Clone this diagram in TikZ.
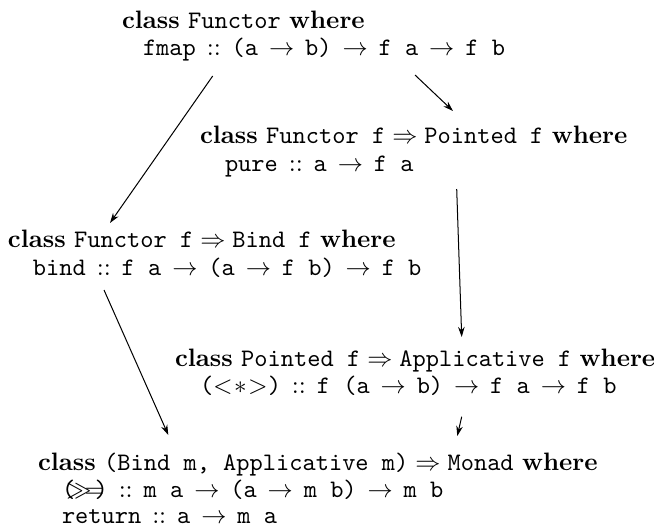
\documentclass[tikz,border=0pt]{standalone}
\usetikzlibrary{arrows.meta}
\newcommand{\T}[1]{\texttt{#1}}
\newcommand{\kw}[1]{\textbf{#1}}
\newcommand{\hc}{\mathrel{::}}
\newcommand{\codem}[1]{$\thickmuskip=7.8mu #1$}
\newcommand{\bindop}{\mathord{\T{(}\kern-3.5pt\mathord{\gg}\mkern-5mu\mathord{=}\kern-3.8pt\T{)}}}
\begin{document}
\begin{tikzpicture}[x=0.397pt,y=-0.397pt,
  codeline/.style={anchor=base west,inner sep=0pt,outer sep=0pt,font=\normalsize},
  arr/.style={-{Stealth[length=4pt,width=2.6pt]},line width=0.4pt}]
\useasboundingbox (0,0) rectangle (654,529);
\node[codeline] (functor) at (122,28) {$\kw{class}\ \T{Functor}\ \kw{where}$};
\node[codeline] (fmap) at (143,55) {\codem{\T{fmap} \hc \T{(a} \rightarrow \T{b)} \rightarrow \T{f a} \rightarrow \T{f b}}};
\node[codeline] (pointed) at (200,143) {$\kw{class}\ \T{Functor f} \Rightarrow \T{Pointed f}\ \kw{where}$};
\node[codeline] (pure) at (225,171) {\codem{\T{pure} \hc \T{a} \rightarrow \T{f a}}};
\node[codeline] (bindc) at (8,247) {$\kw{class}\ \T{Functor f} \Rightarrow \T{Bind f}\ \kw{where}$};
\node[codeline] (bind) at (33,275) {\codem{\T{bind} \hc \T{f a} \rightarrow \T{(a} \rightarrow \T{f b)} \rightarrow \T{f b}}};
\node[codeline] (applc) at (175,366) {$\kw{class}\ \T{Pointed f} \Rightarrow \T{Applicative f}\ \kw{where}$};
\node[codeline] (ap) at (200,393) {\codem{\T{(}{<}\!\ast\!{>}\T{)} \hc \T{f (a} \rightarrow \T{b)} \rightarrow \T{f a} \rightarrow \T{f b}}};
\node[codeline] (monadc) at (38,470) {$\kw{class}\ \T{(Bind m, Applicative m)} \Rightarrow \T{Monad}\ \kw{where}$};
\node[codeline] (mbind) at (62,497) {\codem{\bindop \hc \T{m a} \rightarrow \T{(a} \rightarrow \T{m b)} \rightarrow \T{m b}}};
\node[codeline] (ret) at (62,523) {\codem{\T{return} \hc \T{a} \rightarrow \T{m a}}};
\draw[arr] ([shift={(69.7,21)}]fmap.base west) -- ([shift={(102,-24)}]bindc.base west);
\draw[arr] ([shift={(272,20)}]fmap.base west) -- ([shift={(253,-32)}]pointed.base west);
\draw[arr] ([shift={(231.7,18)}]pure.base west) -- ([shift={(286.7,-29)}]applc.base west);
\draw[arr] ([shift={(71,15)}]bind.base west) -- ([shift={(130.3,-35)}]monadc.base west);
\draw[arr] ([shift={(261.7,23.7)}]ap.base west) -- ([shift={(419.3,-34)}]monadc.base west);
\end{tikzpicture}
\end{document}
